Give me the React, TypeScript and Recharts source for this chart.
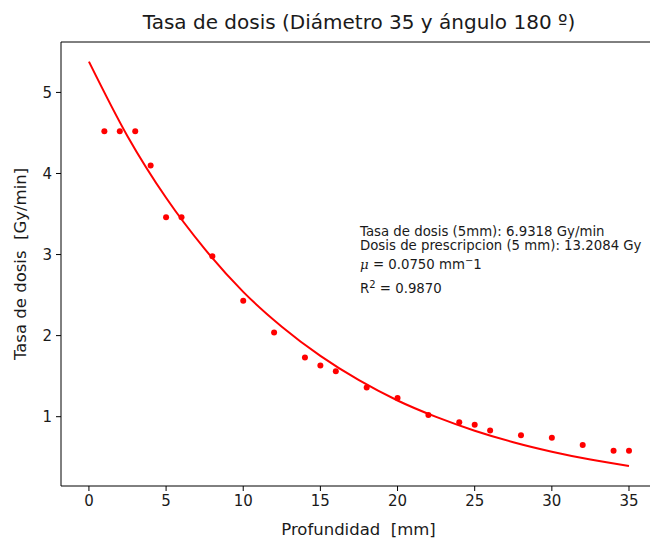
import { ComposedChart, Line, Scatter, XAxis, YAxis, ReferenceLine, Label } from "recharts";

// measured depths (mm) and dose rate (Gy/min)
const depths = [1, 2, 3, 4, 5, 6, 8, 10, 12, 14, 15, 16, 18, 20, 22, 24, 25, 26, 28, 30, 32, 34, 35];
const doseRates = [4.52, 4.52, 4.52, 4.1, 3.46, 3.46, 2.98, 2.43, 2.04, 1.73, 1.63, 1.56, 1.36, 1.23, 1.02, 0.93, 0.9, 0.83, 0.77, 0.74, 0.65, 0.58, 0.58];

// fitted curve
const fitDepths = [0, 2.5, 5, 7.5, 10, 12.5, 15, 17.5, 20, 22.5, 25, 27.5, 30, 32.5, 35];
const fitRates = [5.38, 4.46, 3.7, 3.07, 2.54, 2.11, 1.75, 1.45, 1.2, 0.997, 0.827, 0.685, 0.568, 0.471, 0.391];

const xTicks = [0, 5, 10, 15, 20, 25, 30, 35];
const yTicks = [1, 2, 3, 4, 5];

const points = depths.map((d, i) => ({ x: d, y: doseRates[i] }));
const fit = fitDepths.map((d, i) => ({ x: d, y: fitRates[i] }));

const FONT = "'DejaVu Sans', sans-serif";
const INK = "#1a1a1a";
const Y_MAX = 5.622;

function Dot(props: any) {
  return <circle cx={props.cx} cy={props.cy} r={3} fill="#ff0000" />;
}

export default function App() {
  return (
    <div style={{ position: "absolute", left: 0, top: 0, width: 650, height: 539, overflow: "hidden", background: "#fff", fontFamily: FONT }}>
      <div style={{ position: "absolute", left: 0, width: 718, top: 9, textAlign: "center", fontSize: 20, lineHeight: "26px", color: INK }}>
        Tasa de dosis (Diámetro 35 y ángulo 180 º)
      </div>
      <ComposedChart width={660} height={539} margin={{ top: 42, right: 4, bottom: 0, left: 0 }}>
        <XAxis
          type="number"
          dataKey="x"
          domain={[-1.81, 36.75]}
          ticks={xTicks}
          allowDataOverflow
          tickSize={5}
          tickMargin={4}
          tick={{ fill: INK, fontSize: 15, fontFamily: FONT }}
          stroke="#000"
          height={53}
        >
          <Label value={"Profundidad\u00a0\u00a0[mm]"} position="insideBottom" offset={4} fill={INK} fontSize={16.5} fontFamily={FONT} />
        </XAxis>
        <YAxis
          type="number"
          dataKey="y"
          domain={[0.145, Y_MAX]}
          ticks={yTicks}
          allowDataOverflow
          tickSize={5}
          tickMargin={4}
          tick={{ fill: INK, fontSize: 15, fontFamily: FONT }}
          stroke="#000"
          width={61}
        >
          <Label value={"Tasa de dosis\u00a0\u00a0[Gy/min]"} angle={-90} position="insideLeft" offset={20} fill={INK} fontSize={16.5} fontFamily={FONT} style={{ textAnchor: "middle" }} />
        </YAxis>
        <ReferenceLine y={Y_MAX} stroke="#000" strokeWidth={1} />
        <Line data={fit} dataKey="y" type="monotone" stroke="#ff0000" strokeWidth={2} dot={false} isAnimationActive={false} />
        <Scatter data={points} dataKey="y" shape={Dot} isAnimationActive={false} />
      </ComposedChart>
      <div style={{ position: "absolute", left: 360, top: 225, fontSize: 13.3, lineHeight: "14px", color: INK, whiteSpace: "nowrap" }}>
        <div>Tasa de dosis (5mm): 6.9318 Gy/min</div>
        <div>Dosis de prescripcion (5 mm): 13.2084 Gy</div>
        <div style={{ marginTop: 1 }}>
          <i style={{ fontFamily: "'DejaVu Serif', serif" }}>μ</i> = 0.0750 mm<sup style={{ fontSize: 10 }}>−</sup>1
        </div>
        <div style={{ marginTop: 6 }}>
          R<sup style={{ fontSize: 10 }}>2</sup> = 0.9870
        </div>
      </div>
    </div>
  );
}
